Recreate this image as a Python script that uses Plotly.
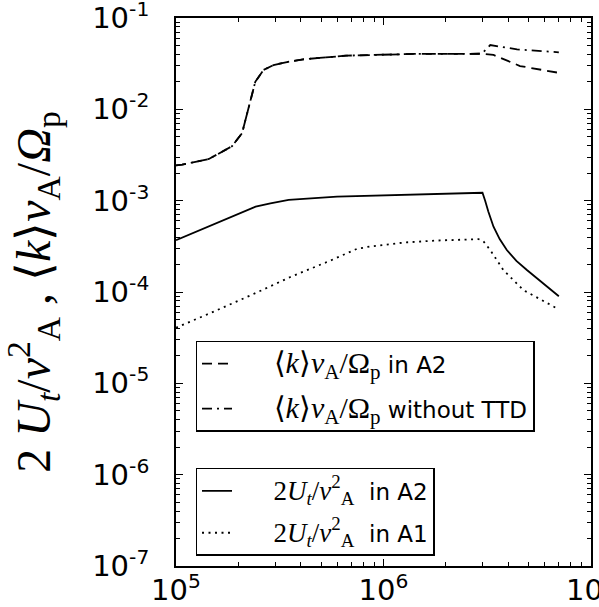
import plotly.graph_objects as go

# energy axis values (log-log)
x_k = [1.0e5, 1.07e5, 1.44e5, 1.86e5, 2.08e5, 2.2e5, 2.28e5, 2.41e5, 2.64e5, 2.95e5,
       3.5e5, 4.1e5, 6.6e5, 1.4e6, 2.98e6, 3.39e6, 4.55e6, 5.7e6, 7.0e6]
k_a2 = [2.44e-3, 2.48e-3, 2.86e-3, 3.94e-3, 5.47e-3, 9.0e-3, 1.26e-2, 2.0e-2, 2.7e-2, 3.05e-2,
        3.33e-2, 3.53e-2, 3.87e-2, 4.04e-2, 4.06e-2, 3.94e-2, 2.98e-2, 2.7e-2, 2.51e-2]

x_k_nottd = [1.0e5, 1.07e5, 1.44e5, 1.86e5, 2.08e5, 2.2e5, 2.28e5, 2.41e5, 2.64e5, 2.95e5,
             3.5e5, 4.1e5, 6.6e5, 1.4e6, 2.98e6, 3.27e6, 4.4e6, 7.0e6]
k_nottd = [2.44e-3, 2.48e-3, 2.86e-3, 3.94e-3, 5.47e-3, 9.0e-3, 1.26e-2, 2.0e-2, 2.7e-2, 3.05e-2,
           3.33e-2, 3.53e-2, 3.87e-2, 4.04e-2, 4.06e-2, 5.06e-2, 4.54e-2, 4.21e-2]

x_u_a2 = [1.0e5, 1.52e5, 2.42e5, 2.85e5, 3.49e5, 5.97e5, 1.25e6, 3.0e6, 3.09e6, 3.2e6,
          3.39e6, 3.63e6, 3.93e6, 4.37e6, 4.91e6, 5.89e6, 7.0e6]
u_a2 = [3.7e-4, 5.56e-4, 8.6e-4, 9.35e-4, 1.02e-3, 1.11e-3, 1.16e-3, 1.22e-3, 1.0e-3, 7.6e-4,
        5.19e-4, 3.8e-4, 2.88e-4, 2.19e-4, 1.74e-4, 1.23e-4, 9.0e-5]

x_u_a1 = [1.0e5, 1.09e5, 1.47e5, 2.29e5, 3.56e5, 5.55e5, 7.45e5, 8.63e5, 1.25e6, 1.81e6,
          2.87e6, 3.02e6, 3.27e6, 3.78e6, 4.72e6, 7.0e6]
u_a1 = [4.07e-5, 4.44e-5, 5.9e-5, 9.2e-5, 1.46e-4, 2.21e-4, 2.97e-4, 3.15e-4, 3.48e-4, 3.66e-4,
        3.79e-4, 3.63e-4, 2.88e-4, 1.74e-4, 1.05e-4, 6.45e-5]

# tick labels
x_ticks = [1e5, 1e6, 1e7]
x_ticktext = ["10<sup>5</sup>", "10<sup>6</sup>", "10<sup>7</sup>"]
y_ticks = [1e-7, 1e-6, 1e-5, 1e-4, 1e-3, 1e-2, 1e-1]
y_ticktext = ["10<sup>-7</sup>", "10<sup>-6</sup>", "10<sup>-5</sup>", "10<sup>-4</sup>",
              "10<sup>-3</sup>", "10<sup>-2</sup>", "10<sup>-1</sup>"]

SERIF = "Liberation Serif"
PAD = "\u00a0" * 5
k_txt = (PAD + '<span style="font-family:%s;font-size:30px">⟨<i>k</i>⟩<i>v</i><sub>A</sub>/Ω<sub>p</sub></span>'
         % SERIF)
u_txt = (PAD + '<span style="font-family:%s;font-size:27px">2<i>U<sub>t</sub></i>/<i>v</i><sup>2</sup><sub>A</sub></span>'
         % SERIF)

fig = go.Figure()

fig.add_trace(go.Scatter(x=x_k, y=k_a2, mode="lines", name=k_txt + " in A2",
                         line=dict(color="black", width=1.8, dash="10px,6px"),
                         legend="legend", legendgroup="a"))
fig.add_trace(go.Scatter(x=x_k_nottd, y=k_nottd, mode="lines", name=k_txt + " without TTD",
                         line=dict(color="black", width=1.8, dash="10px,5px,2px,5px"),
                         legend="legend", legendgroup="b"))
fig.add_trace(go.Scatter(x=x_u_a2, y=u_a2, mode="lines", name=u_txt + "  in A2",
                         line=dict(color="black", width=1.8),
                         legend="legend2", legendgroup="c"))
fig.add_trace(go.Scatter(x=x_u_a1, y=u_a1, mode="lines", name=u_txt + "  in A1",
                         line=dict(color="black", width=1.8, dash="2px,4.5px"),
                         legend="legend2", legendgroup="d"))

axis_common = dict(
    type="log", showline=True, linecolor="black", linewidth=1.8, mirror="allticks",
    ticks="inside", ticklen=7, tickcolor="black", tickwidth=1.2, showgrid=False, zeroline=False,
    tickmode="array", ticklabeloverflow="allow",
    minor=dict(ticks="inside", ticklen=4, tickcolor="black", tickwidth=1, dtick="D1", showgrid=False),
    tickfont=dict(family="DejaVu Sans", size=29, color="black"),
    automargin=False,
)

fig.update_xaxes(range=[4.9999, 7.0001], tickvals=x_ticks, ticktext=x_ticktext,
                 ticklabelstandoff=-3, **axis_common)
fig.update_yaxes(
    range=[-7.0001, -0.9999], tickvals=y_ticks, ticktext=y_ticktext, ticklabelstandoff=19,
    title=dict(
        text="2 <i>U<sub>t</sub></i>/<i>v</i><sup>2</sup><sub>A</sub> , "
             "⟨<i>k</i>⟩<i>v</i><sub>A</sub>/<i>Ω</i><sub>p</sub>" + "\u00a0" * 4,
        font=dict(family=SERIF, size=48, color="black"), standoff=35),
    **axis_common)

legend_common = dict(
    xanchor="left", yanchor="top", bgcolor="white", bordercolor="black", borderwidth=1.5,
    font=dict(family="DejaVu Sans", size=23, color="black"),
    traceorder="grouped",
)

fig.update_layout(
    width=599, height=607,
    margin=dict(l=175.5, r=7.5, t=18, b=41),
    paper_bgcolor="white", plot_bgcolor="white",
    template="none",
    showlegend=True,
    legend=dict(x=0.047, y=0.411, tracegroupgap=12, **legend_common),
    legend2=dict(x=0.047, y=0.179, tracegroupgap=9, **legend_common),
)

# the page body has a default 8px margin; drop it so the figure sits at the corner
fig.write_html("out.html", config={"displayModeBar": False},
               post_script="document.body.style.margin='0px';")
